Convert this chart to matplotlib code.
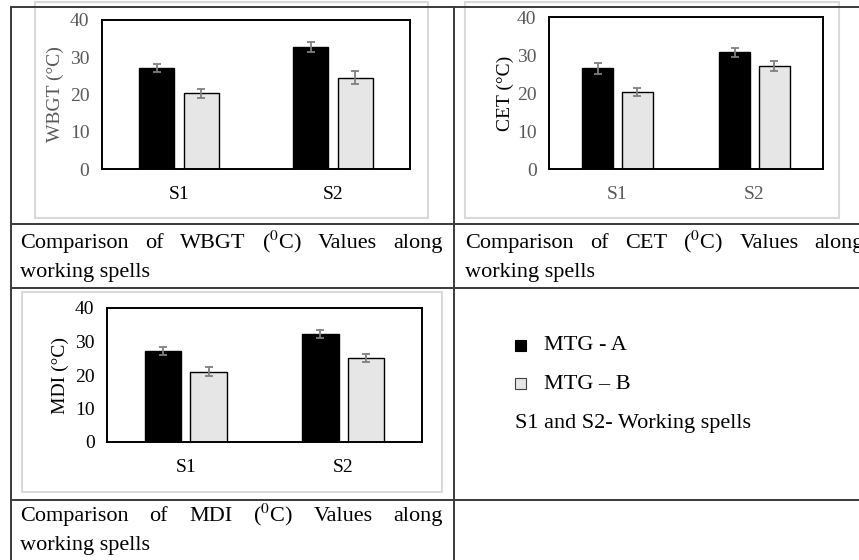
"""three-panel thermal index comparison (WBGT, CET, MDI) laid out as a word-style table"""
import matplotlib

matplotlib.use("Agg")
import matplotlib.pyplot as plt  # noqa: E402
from matplotlib.lines import Line2D  # noqa: E402
from matplotlib.patches import Rectangle  # noqa: E402

W, H = 859, 560

SPELLS = ["S1", "S2"]
GROUPS = ["MTG - A", "MTG \u2013 B"]
YTICKS = [0, 10, 20, 30, 40]

# mean and error bar half-width per spell
WBGT_A = [27.2, 32.8]
WBGT_A_ERR = [1.1, 1.3]
WBGT_B = [20.3, 24.5]
WBGT_B_ERR = [1.2, 1.7]

CET_A = [26.5, 30.7]
CET_A_ERR = [1.45, 1.25]
CET_B = [20.2, 27.1]
CET_B_ERR = [1.1, 1.2]

MDI_A = [27.1, 32.2]
MDI_A_ERR = [1.2, 1.3]
MDI_B = [21.0, 25.1]
MDI_B_ERR = [1.3, 1.3]

plt.rcParams["font.family"] = "serif"
plt.rcParams["font.serif"] = ["Liberation Serif", "DejaVu Serif"]
plt.rcParams["mathtext.fontset"] = "stix"

GREY_TXT = "#595959"
LINE = "#3a3a3a"
BOX = "#d9d9d9"
TXT = 16    # caption / legend size
AXT = 14    # tick and axis label size


def fx(x):
    return x / W


def fy(y):
    return 1 - y / H


fig = plt.figure(figsize=(W / 100, H / 100), dpi=100)


def hline(y, x0, x1):
    fig.add_artist(Line2D([fx(x0), fx(x1)], [fy(y), fy(y)], transform=fig.transFigure, color=LINE, lw=1.4))


def vline(x, y0, y1):
    fig.add_artist(Line2D([fx(x), fx(x)], [fy(y0), fy(y1)], transform=fig.transFigure, color=LINE, lw=1.4))


def grey_box(l, t, r, b):
    fig.add_artist(Rectangle((fx(l), fy(b)), (r - l) / W, (b - t) / H, transform=fig.transFigure,
                             fill=False, edgecolor=BOX, lw=1.5))


def panel(box, a, a_err, b, b_err, ylabel, ylab_col, ytick_col, xtick_col, labelpad):
    l, t, r, bt = box
    ax = fig.add_axes([fx(l), fy(bt), (r - l) / W, (bt - t) / H])
    x = range(len(SPELLS))
    ekw = dict(ecolor="#7f7f7f", capsize=3, elinewidth=1.3, capthick=1.3)
    ax.bar([i - 0.145 for i in x], a, 0.23, color="black", edgecolor="black", lw=1.0,
           yerr=a_err, error_kw=ekw)
    ax.bar([i + 0.145 for i in x], b, 0.23, color="#e6e6e6", edgecolor="black", lw=1.0,
           yerr=b_err, error_kw=ekw)
    ax.set_xlim(-0.5, 1.5)
    ax.set_ylim(0, 40)
    ax.set_yticks(YTICKS)
    ax.set_xticks(list(x))
    ax.set_xticklabels(SPELLS)
    ax.tick_params(length=0, labelsize=AXT)
    ax.tick_params(axis="x", pad=12, colors=xtick_col)
    ax.tick_params(axis="y", pad=9, colors=ytick_col)
    for s in ax.spines.values():
        s.set_color("black")
        s.set_linewidth(1.4)
    ax.set_ylabel(ylabel, fontsize=AXT, color=ylab_col, labelpad=labelpad)
    return ax


def justified(words, x0, x1, y, size=TXT):
    texts = [fig.text(0, fy(y), w, fontsize=size, va="baseline", ha="left") for w in words]
    r = fig.canvas.get_renderer()
    widths = [t.get_window_extent(r).width for t in texts]
    gap = (x1 - x0 - sum(widths)) / (len(words) - 1)
    x = x0
    for t, wd in zip(texts, widths):
        t.set_x(fx(x))
        x += wd + gap


# table rules
hline(7, 11, W)
hline(224, 11, W)
hline(288, 11, W)
hline(500, 11, W)
vline(11, 7, H)
vline(454, 7, H)

# chart frames
grey_box(35, 2, 428, 218)
grey_box(465, 2, 839, 218)
grey_box(22, 292, 442, 492)

panel((102, 20, 410, 169), WBGT_A, WBGT_A_ERR, WBGT_B, WBGT_B_ERR,
      "WBGT (\u00b0C)", GREY_TXT, GREY_TXT, "black", 4)
panel((549, 17, 823, 169), CET_A, CET_A_ERR, CET_B, CET_B_ERR,
      "CET (\u00b0C)", "black", GREY_TXT, GREY_TXT, 2)
panel((107, 308, 422, 442), MDI_A, MDI_A_ERR, MDI_B, MDI_B_ERR,
      "MDI (\u00b0C)", "black", "black", "black", 4)

# captions
justified(["Comparison", "of", "WBGT", r"($^{0}$C)", "Values", "along"], 20, 443, 248)
fig.text(fx(20), fy(277), "working spells", fontsize=TXT, va="baseline")
justified(["Comparison", "of", "CET", r"($^{0}$C)", "Values", "along"], 465, 864, 248)
fig.text(fx(465), fy(277), "working spells", fontsize=TXT, va="baseline")
justified(["Comparison", "of", "MDI", r"($^{0}$C)", "Values", "along"], 20, 443, 521)
fig.text(fx(20), fy(550), "working spells", fontsize=TXT, va="baseline")

# legend cell
fig.add_artist(Rectangle((fx(515), fy(351)), 11 / W, 11 / H, transform=fig.transFigure,
                         facecolor="black", edgecolor="black", lw=0.8))
fig.add_artist(Rectangle((fx(515), fy(389)), 11 / W, 11 / H, transform=fig.transFigure,
                         facecolor="#e6e6e6", edgecolor="#404040", lw=0.8))
fig.text(fx(544), fy(350), GROUPS[0], fontsize=TXT, va="baseline")
fig.text(fx(544), fy(389), GROUPS[1], fontsize=TXT, va="baseline")
fig.text(fx(515), fy(428), "S1 and S2- Working spells", fontsize=TXT, va="baseline")

fig.savefig("out.png", dpi=100)
